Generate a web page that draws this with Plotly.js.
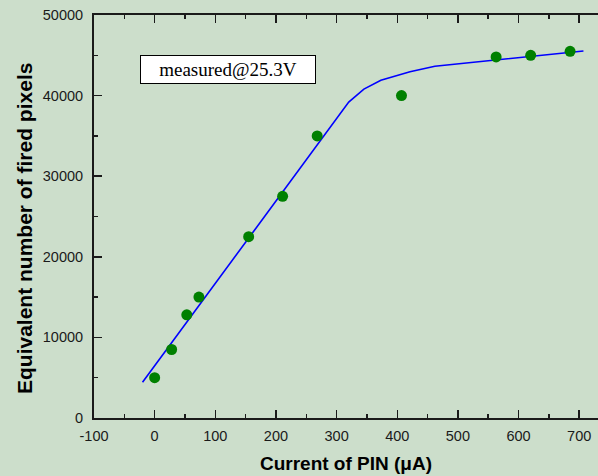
<!DOCTYPE html>
<html>
<head>
<meta charset="utf-8">
<script src="https://cdn.plot.ly/plotly-3.0.1.min.js"></script>
<style>html,body{margin:0;padding:0;background:#ccdecb;}</style>
</head>
<body>
<div id="chart" style="width:598px;height:476px;"></div>
<script>
// measured points
const currentPIN = [0, 28, 53, 73, 155, 211, 268, 407, 563, 620, 685];
const firedPixels = [5000, 8500, 12800, 15000, 22500, 27500, 35000, 40000, 44800, 45000, 45500];
// fitted curve
const fitCurrent = [-20, 300, 320, 345, 373, 421, 462, 707];
const fitPixels = [4430, 37150, 39200, 40800, 41900, 42950, 43650, 45530];
const xTickVals = [-100, 0, 100, 200, 300, 400, 500, 600, 700];
const yTickVals = [0, 10000, 20000, 30000, 40000, 50000];
const labelText = "measured@25.3V";
const xTitle = "Current of PIN (μA)";
const yTitle = "Equivalent number of fired pixels";

const traces = [
  {x: fitCurrent, y: fitPixels, mode: 'lines', type: 'scatter',
   line: {color: '#0000ff', width: 1.6}, hoverinfo: 'skip'},
  {x: currentPIN, y: firedPixels, mode: 'markers', type: 'scatter',
   marker: {color: '#008000', size: 11}}
];

const axisFont = {family: 'Liberation Sans, Arial, sans-serif', size: 14.5, color: '#1a1a1a'};
const titleFont = {family: 'Liberation Sans, Arial, sans-serif', size: 19, color: '#000', weight: 'bold'};
const layout = {
  width: 598, height: 476,
  margin: {l: 94, r: 0, t: 15, b: 58},
  paper_bgcolor: '#ccdecb', plot_bgcolor: '#ccdecb',
  showlegend: false,
  xaxis: {
    range: [-100, 731], tickvals: xTickVals, ticktext: xTickVals.map(String),
    showgrid: false, zeroline: false,
    showline: true, linecolor: '#1a1a1a', linewidth: 2, mirror: 'ticks',
    ticks: 'inside', ticklen: 8, tickwidth: 1.5, tickcolor: '#1a1a1a',
    minor: {ticks: 'inside', ticklen: 4, tickwidth: 1.5, tickcolor: '#1a1a1a', dtick: 50, tick0: 0},
    tickfont: axisFont, ticklabelstandoff: 4,
    title: {text: xTitle, font: titleFont, standoff: 13}
  },
  yaxis: {
    range: [0, 50000], tickvals: yTickVals, ticktext: yTickVals.map(String),
    showgrid: false, zeroline: false,
    showline: true, linecolor: '#1a1a1a', linewidth: 2,
    ticks: 'inside', ticklen: 8, tickwidth: 1.5, tickcolor: '#1a1a1a',
    minor: {ticks: 'inside', ticklen: 4, tickwidth: 1.5, tickcolor: '#1a1a1a', dtick: 5000, tick0: 0},
    tickfont: axisFont, ticklabelstandoff: 6
  },
  annotations: [{
    x: 121, y: 43240, xref: 'x', yref: 'y', text: labelText, showarrow: false,
    font: {family: 'Liberation Serif, Times New Roman, serif', size: 19, color: '#000'},
    bgcolor: '#ffffff', bordercolor: '#000000', borderwidth: 1, borderpad: 0,
    width: 174, height: 27, xanchor: 'center', yanchor: 'middle'
  }, {
    x: (24 - 94) / 504, y: (418 - 229) / 403, xref: 'paper', yref: 'paper',
    text: yTitle, textangle: -90, showarrow: false,
    font: {family: 'Liberation Sans, Arial, sans-serif', size: 21, color: '#000', weight: 'bold'},
    xanchor: 'center', yanchor: 'middle'
  }]
};

Plotly.newPlot('chart', traces, layout, {displayModeBar: false, staticPlot: true});
</script>
</body>
</html>
